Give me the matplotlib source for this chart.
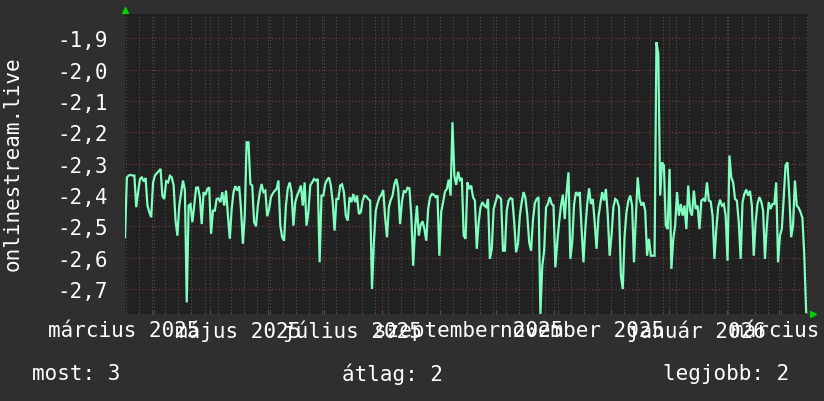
import matplotlib
matplotlib.use('Agg')
import matplotlib.pyplot as plt
import matplotlib.dates as mdates
import matplotlib.transforms as mtransforms
import pandas as pd

plt.rcParams['font.family'] = ['DejaVu Sans Mono']

# daily samples, first one at the left edge of the graph
start = '2025-03-16 12:00'
values = [
    -2.535, -2.344, -2.338, -2.336, -2.338, -2.338, -2.439, -2.391, -2.349, -2.344,
    -2.357, -2.346, -2.434, -2.455, -2.471, -2.360, -2.338, -2.331, -2.324, -2.317,
    -2.404, -2.413, -2.356, -2.360, -2.339, -2.344, -2.370, -2.482, -2.530, -2.434,
    -2.394, -2.354, -2.384, -2.743, -2.434, -2.429, -2.487, -2.434, -2.377, -2.376,
    -2.407, -2.493, -2.391, -2.400, -2.381, -2.376, -2.524, -2.450, -2.450, -2.413,
    -2.411, -2.423, -2.391, -2.434, -2.386, -2.466, -2.540, -2.445, -2.391, -2.372,
    -2.386, -2.372, -2.445, -2.556, -2.466, -2.232, -2.232, -2.365, -2.370, -2.487,
    -2.500, -2.434, -2.394, -2.365, -2.391, -2.386, -2.468, -2.445, -2.407, -2.395,
    -2.387, -2.381, -2.354, -2.498, -2.535, -2.546, -2.434, -2.379, -2.360, -2.391,
    -2.498, -2.423, -2.402, -2.388, -2.370, -2.434, -2.360, -2.498, -2.455, -2.370,
    -2.360, -2.349, -2.354, -2.349, -2.615, -2.402, -2.402, -2.365, -2.352, -2.344,
    -2.370, -2.423, -2.514, -2.413, -2.413, -2.370, -2.366, -2.391, -2.466, -2.482,
    -2.407, -2.423, -2.397, -2.423, -2.402, -2.461, -2.455, -2.418, -2.402, -2.405,
    -2.413, -2.418, -2.700, -2.551, -2.450, -2.426, -2.407, -2.400, -2.384, -2.471,
    -2.535, -2.439, -2.416, -2.402, -2.365, -2.349, -2.381, -2.493, -2.421, -2.388,
    -2.391, -2.377, -2.379, -2.466, -2.626, -2.509, -2.434, -2.530, -2.496, -2.484,
    -2.509, -2.546, -2.445, -2.408, -2.397, -2.399, -2.407, -2.402, -2.594, -2.453,
    -2.423, -2.389, -2.381, -2.351, -2.402, -2.168, -2.338, -2.368, -2.326, -2.352,
    -2.346, -2.530, -2.540, -2.360, -2.381, -2.370, -2.407, -2.418, -2.572, -2.487,
    -2.439, -2.423, -2.434, -2.439, -2.413, -2.604, -2.572, -2.445, -2.423, -2.402,
    -2.407, -2.413, -2.578, -2.578, -2.450, -2.418, -2.410, -2.413, -2.487, -2.583,
    -2.556, -2.466, -2.423, -2.391, -2.410, -2.466, -2.551, -2.578, -2.482, -2.426,
    -2.413, -2.407, -2.780, -2.626, -2.578, -2.439, -2.429, -2.407, -2.429, -2.434,
    -2.631, -2.551, -2.487, -2.434, -2.399, -2.477, -2.391, -2.328, -2.604, -2.551,
    -2.429, -2.391, -2.400, -2.391, -2.509, -2.615, -2.509, -2.429, -2.379, -2.429,
    -2.413, -2.487, -2.572, -2.471, -2.429, -2.391, -2.418, -2.381, -2.466, -2.594,
    -2.530, -2.439, -2.413, -2.418, -2.439, -2.657, -2.700, -2.530, -2.455, -2.418,
    -2.402, -2.434, -2.615, -2.471, -2.344, -2.413, -2.434, -2.423, -2.450, -2.594,
    -2.540, -2.594, -2.594, -2.594, -1.913, -1.950, -2.402, -2.296, -2.306, -2.498,
    -2.509, -2.317, -2.636, -2.540, -2.498, -2.391, -2.466, -2.429, -2.466, -2.434,
    -2.509, -2.370, -2.450, -2.466, -2.386, -2.445, -2.434, -2.509, -2.418, -2.413,
    -2.421, -2.360, -2.418, -2.421, -2.466, -2.604, -2.509, -2.439, -2.415, -2.434,
    -2.429, -2.466, -2.610, -2.274, -2.344, -2.360, -2.413, -2.418, -2.487, -2.604,
    -2.423, -2.397, -2.383, -2.402, -2.387, -2.434, -2.594, -2.487, -2.429, -2.407,
    -2.421, -2.450, -2.604, -2.498, -2.423, -2.445, -2.429, -2.429, -2.360, -2.615,
    -2.530, -2.509, -2.413, -2.306, -2.296, -2.402, -2.535, -2.498, -2.354, -2.434,
    -2.441, -2.455, -2.473, -2.590, -2.774,
]

ytick_vals = [-1.9, -2.0, -2.1, -2.2, -2.3, -2.4, -2.5, -2.6, -2.7]
ytick_labels = ['-1,9', '-2,0', '-2,1', '-2,2', '-2,3', '-2,4', '-2,5', '-2,6', '-2,7']
month_labels = ['március 2025', 'május 2025', 'július 2025', 'szeptember 2025',
                'november 2025', 'január 2026', 'március 2026']
label_dates = ['2025-03-16', '2025-05-16', '2025-07-16', '2025-09-16',
               '2025-11-16', '2026-01-16', '2026-03-16']
ylabel = 'onlinestream.live'
legend = [('most', 3), ('átlag', 2), ('legjobb', 2)]

canvas = '#2f2f2f'
back = '#212121'
line = '#80ffc0'
major = '#7a3c3c'
minor = '#505050'
fsize = 15

days = pd.date_range(start, periods=len(values), freq='D')
t0 = pd.Timestamp(start)

fig = plt.figure(figsize=(8.24, 4.02), dpi=100, facecolor=canvas)
ax = fig.add_axes([125 / 824, 87 / 402, 683 / 824, 300 / 402])
ax.set_facecolor(back)
ax.set_axisbelow(True)

ax.plot(days, values, color=line, lw=1.6, solid_joinstyle='miter')

ax.set_xlim(t0, t0 + pd.Timedelta(days=365))
ax.set_ylim(-2.78, -1.8225)

ax.xaxis.set_major_locator(mdates.MonthLocator())
ax.xaxis.set_minor_locator(mdates.WeekdayLocator(byweekday=mdates.MO))
ax.xaxis.set_major_formatter(matplotlib.ticker.NullFormatter())
ax.set_yticks(ytick_vals, ytick_labels)

ax.grid(which='major', axis='both', color=major, ls=(0, (1, 2)), lw=0.8)
ax.grid(which='minor', axis='x', color=minor, ls=(0, (1, 2)), lw=0.8)

ax.tick_params(axis='y', length=0, pad=12, labelsize=fsize, labelcolor='white')
ax.tick_params(axis='x', which='major', length=3, color=major, direction='in')
ax.tick_params(axis='x', which='minor', length=2, color=minor, direction='in')
for s in ax.spines.values():
    s.set_visible(False)

trans = mtransforms.blended_transform_factory(ax.transData, ax.transAxes)
for d, lab in zip(label_dates, month_labels):
    ax.text(pd.Timestamp(d), -16 / 300, lab, transform=trans, ha='center', va='center',
            fontsize=fsize, color='white')

# small green arrows at the axis ends
ax.plot([0], [1 + 4 / 300], marker='^', ms=5, color='#00d000', transform=ax.transAxes,
        clip_on=False)
ax.plot([1 + 5 / 683], [0], marker='>', ms=5, color='#00d000', transform=ax.transAxes,
        clip_on=False)

fig.text(13 / 824, 1 - 164 / 402, ylabel, rotation=90, ha='center', va='center',
         fontsize=fsize, color='white')

legend_x = [32, 342, 663]
for x, (name, v) in zip(legend_x, legend):
    fig.text(x / 824, 1 - 374 / 402, f'{name}: {v}', ha='left', va='center',
             fontsize=fsize, color='white')

fig.savefig('out.png', dpi=100, facecolor=canvas)
